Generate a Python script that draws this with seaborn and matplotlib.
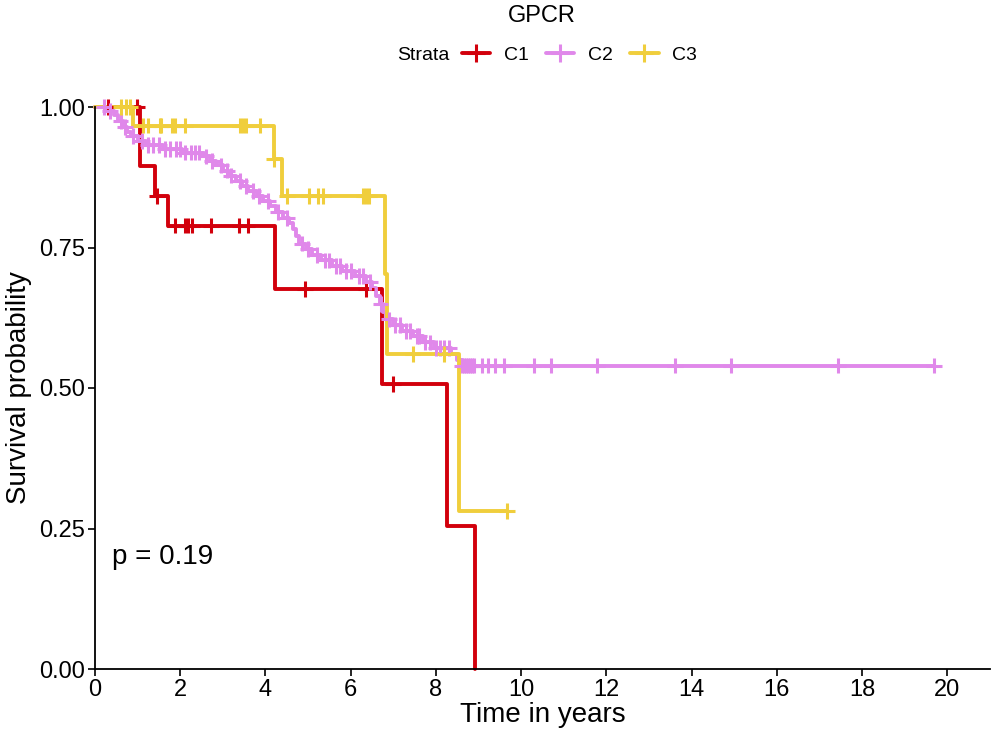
import numpy as np
import pandas as pd
import matplotlib
matplotlib.use("Agg")
import matplotlib.pyplot as plt
from matplotlib.lines import Line2D
import seaborn as sns

# ---- data ----
strata = ["C1", "C2", "C3"]
colors = ["#D2000C", "#E088EA", "#F0CE3C"]

c1_times = [0.0, 1.06, 1.41, 1.72, 4.23, 6.74, 8.25, 8.92]
c1_surv = [1.0, 0.895, 0.842, 0.789, 0.676, 0.507, 0.254, 0.0]
c1_end = 8.92
c1_censor = [0.30, 0.98, 1.45, 1.88, 2.10, 2.18, 2.27, 2.72, 3.39, 3.58, 4.93, 6.36, 6.99]

c2_times = [0.0, 0.30, 0.45, 0.55, 0.65, 0.75, 0.85, 1.00, 1.20, 1.60, 2.05, 2.55,
            2.70, 2.85, 3.00, 3.15, 3.30, 3.45, 3.60, 3.80, 3.95, 4.10, 4.25, 4.40,
            4.55, 4.65, 4.72, 4.78, 4.95, 5.10, 5.30, 5.55, 5.80, 6.10, 6.35, 6.50,
            6.60, 6.68, 6.75, 6.82, 7.00, 7.20, 7.45, 7.70, 7.95, 8.35, 8.50, 8.60]
c2_surv = [1.0, 0.993, 0.985, 0.975, 0.965, 0.955, 0.948, 0.940, 0.933, 0.926, 0.919, 0.912,
           0.904, 0.896, 0.887, 0.878, 0.869, 0.860, 0.851, 0.842, 0.833, 0.823, 0.813, 0.803,
           0.793, 0.783, 0.770, 0.757, 0.747, 0.737, 0.727, 0.717, 0.708, 0.699, 0.689, 0.678,
           0.664, 0.650, 0.636, 0.622, 0.612, 0.602, 0.592, 0.581, 0.571, 0.561, 0.550, 0.540]
c2_end = 19.68
c2_censor = [0.20, 0.35, 0.60, 0.70, 0.90, 1.10, 1.25, 1.35, 1.50, 1.65, 1.75, 1.90, 2.00,
             2.10, 2.25, 2.35, 2.45, 2.60, 2.75, 2.95, 3.10, 3.20, 3.40, 3.55, 3.70, 3.85,
             4.05, 4.30, 4.50, 4.85, 5.00, 5.20, 5.40, 5.50, 5.65, 5.75, 5.90, 6.00, 6.20,
             6.30, 6.45, 6.70, 6.90, 7.05, 7.15, 7.30, 7.40, 7.55, 7.60, 7.75, 7.85, 8.00,
             8.10, 8.20, 8.30, 8.60, 8.65, 8.70, 8.75, 8.80, 8.85, 8.90, 9.08, 9.23, 9.39,
             9.60, 10.31, 10.70, 11.79, 13.61, 14.93, 17.43, 19.68]

c3_times = [0.0, 0.90, 4.19, 4.38, 6.80, 6.86, 8.53]
c3_surv = [1.0, 0.967, 0.907, 0.842, 0.702, 0.561, 0.281]
c3_end = 9.67
c3_censor = [0.60, 0.72, 0.82, 1.13, 1.25, 1.53, 1.56, 1.80, 1.88, 2.11, 3.40, 3.48, 3.54,
             3.87, 4.20, 4.50, 5.01, 5.24, 5.34, 6.30, 6.36, 6.42, 7.45, 8.20, 9.67]

x_ticks = [0, 2, 4, 6, 8, 10, 12, 14, 16, 18, 20]
y_ticks = [0.0, 0.25, 0.5, 0.75, 1.0]
y_ticklabels = ["0.00", "0.25", "0.50", "0.75", "1.00"]
title = "GPCR"
pval_text = "p = 0.19"

# ---- build tables ----
series = {
    "C1": (c1_times, c1_surv, c1_end, c1_censor),
    "C2": (c2_times, c2_surv, c2_end, c2_censor),
    "C3": (c3_times, c3_surv, c3_end, c3_censor),
}
line_rows, cens_rows = [], []
for name, (t, s, end, cen) in series.items():
    t = list(t) + [end]
    s = list(s) + [s[-1]]
    for ti, si in zip(t, s):
        line_rows.append({"time": ti, "surv": si, "strata": name})
    tt = np.array(t)
    for c in cen:
        idx = np.searchsorted(tt, c, side="right") - 1
        cens_rows.append({"time": c, "surv": s[idx], "strata": name})
lines_df = pd.DataFrame(line_rows)
cens_df = pd.DataFrame(cens_rows)

# ---- plot ----
sns.set_theme(style="ticks")
plt.rcParams["font.family"] = ["Liberation Sans", "DejaVu Sans"]
plt.rcParams["text.color"] = "black"
plt.rcParams["axes.labelcolor"] = "black"
plt.rcParams["xtick.color"] = "black"
plt.rcParams["ytick.color"] = "black"

fig = plt.figure(figsize=(9.99, 7.43), dpi=100)
ax = fig.add_axes([95 / 999, 74 / 743, (990 - 95) / 999, (669 - 107) / 743])
pal = dict(zip(strata, colors))

sns.lineplot(data=lines_df, x="time", y="surv", hue="strata", hue_order=strata,
             palette=pal, estimator=None, sort=False, drawstyle="steps-post",
             linewidth=2.8, legend=False, ax=ax, clip_on=False)
sns.scatterplot(data=cens_df, x="time", y="surv", hue="strata", hue_order=strata,
                palette=pal, marker="+", s=130, linewidth=2.2, legend=False, ax=ax,
                clip_on=False, zorder=3)

ax.set_xlim(0, 21)
ax.set_ylim(0, 1)
ax.set_xticks(x_ticks)
ax.set_yticks(y_ticks)
ax.set_yticklabels(y_ticklabels)
ax.tick_params(axis="both", labelsize=17, length=5, width=1.2, color="black",
               labelcolor="black", pad=2)
for sp in ["left", "bottom"]:
    ax.spines[sp].set_linewidth(1.3)
    ax.spines[sp].set_color("black")
sns.despine(ax=ax)
ax.set_xlabel("Time in years", fontsize=20, labelpad=1, color="black")
ax.set_ylabel("Survival probability", fontsize=20, labelpad=5, color="black")

ax.text(0.4, 0.2, pval_text, fontsize=20, ha="left", va="center", color="black")

fig.text(542 / 999, 1 - 16 / 743, title, ha="center", va="center", fontsize=17,
         color="black")
fig.text(397 / 999, 1 - 55 / 743, "Strata", ha="left", va="center", fontsize=14,
         color="black")
handles = [Line2D([], [], color=c, linewidth=2.8, marker="+", markersize=13,
                  markeredgewidth=2.2) for c in colors]
leg = fig.legend(handles, strata, ncol=3, loc="center left",
                 bbox_to_anchor=(462 / 999, 1 - 55 / 743), frameon=False, fontsize=14,
                 handlelength=1.45, handletextpad=0.7, columnspacing=0.9,
                 borderpad=0, borderaxespad=0)
for txt in leg.get_texts():
    txt.set_color("black")

fig.savefig("out.png", dpi=100)
